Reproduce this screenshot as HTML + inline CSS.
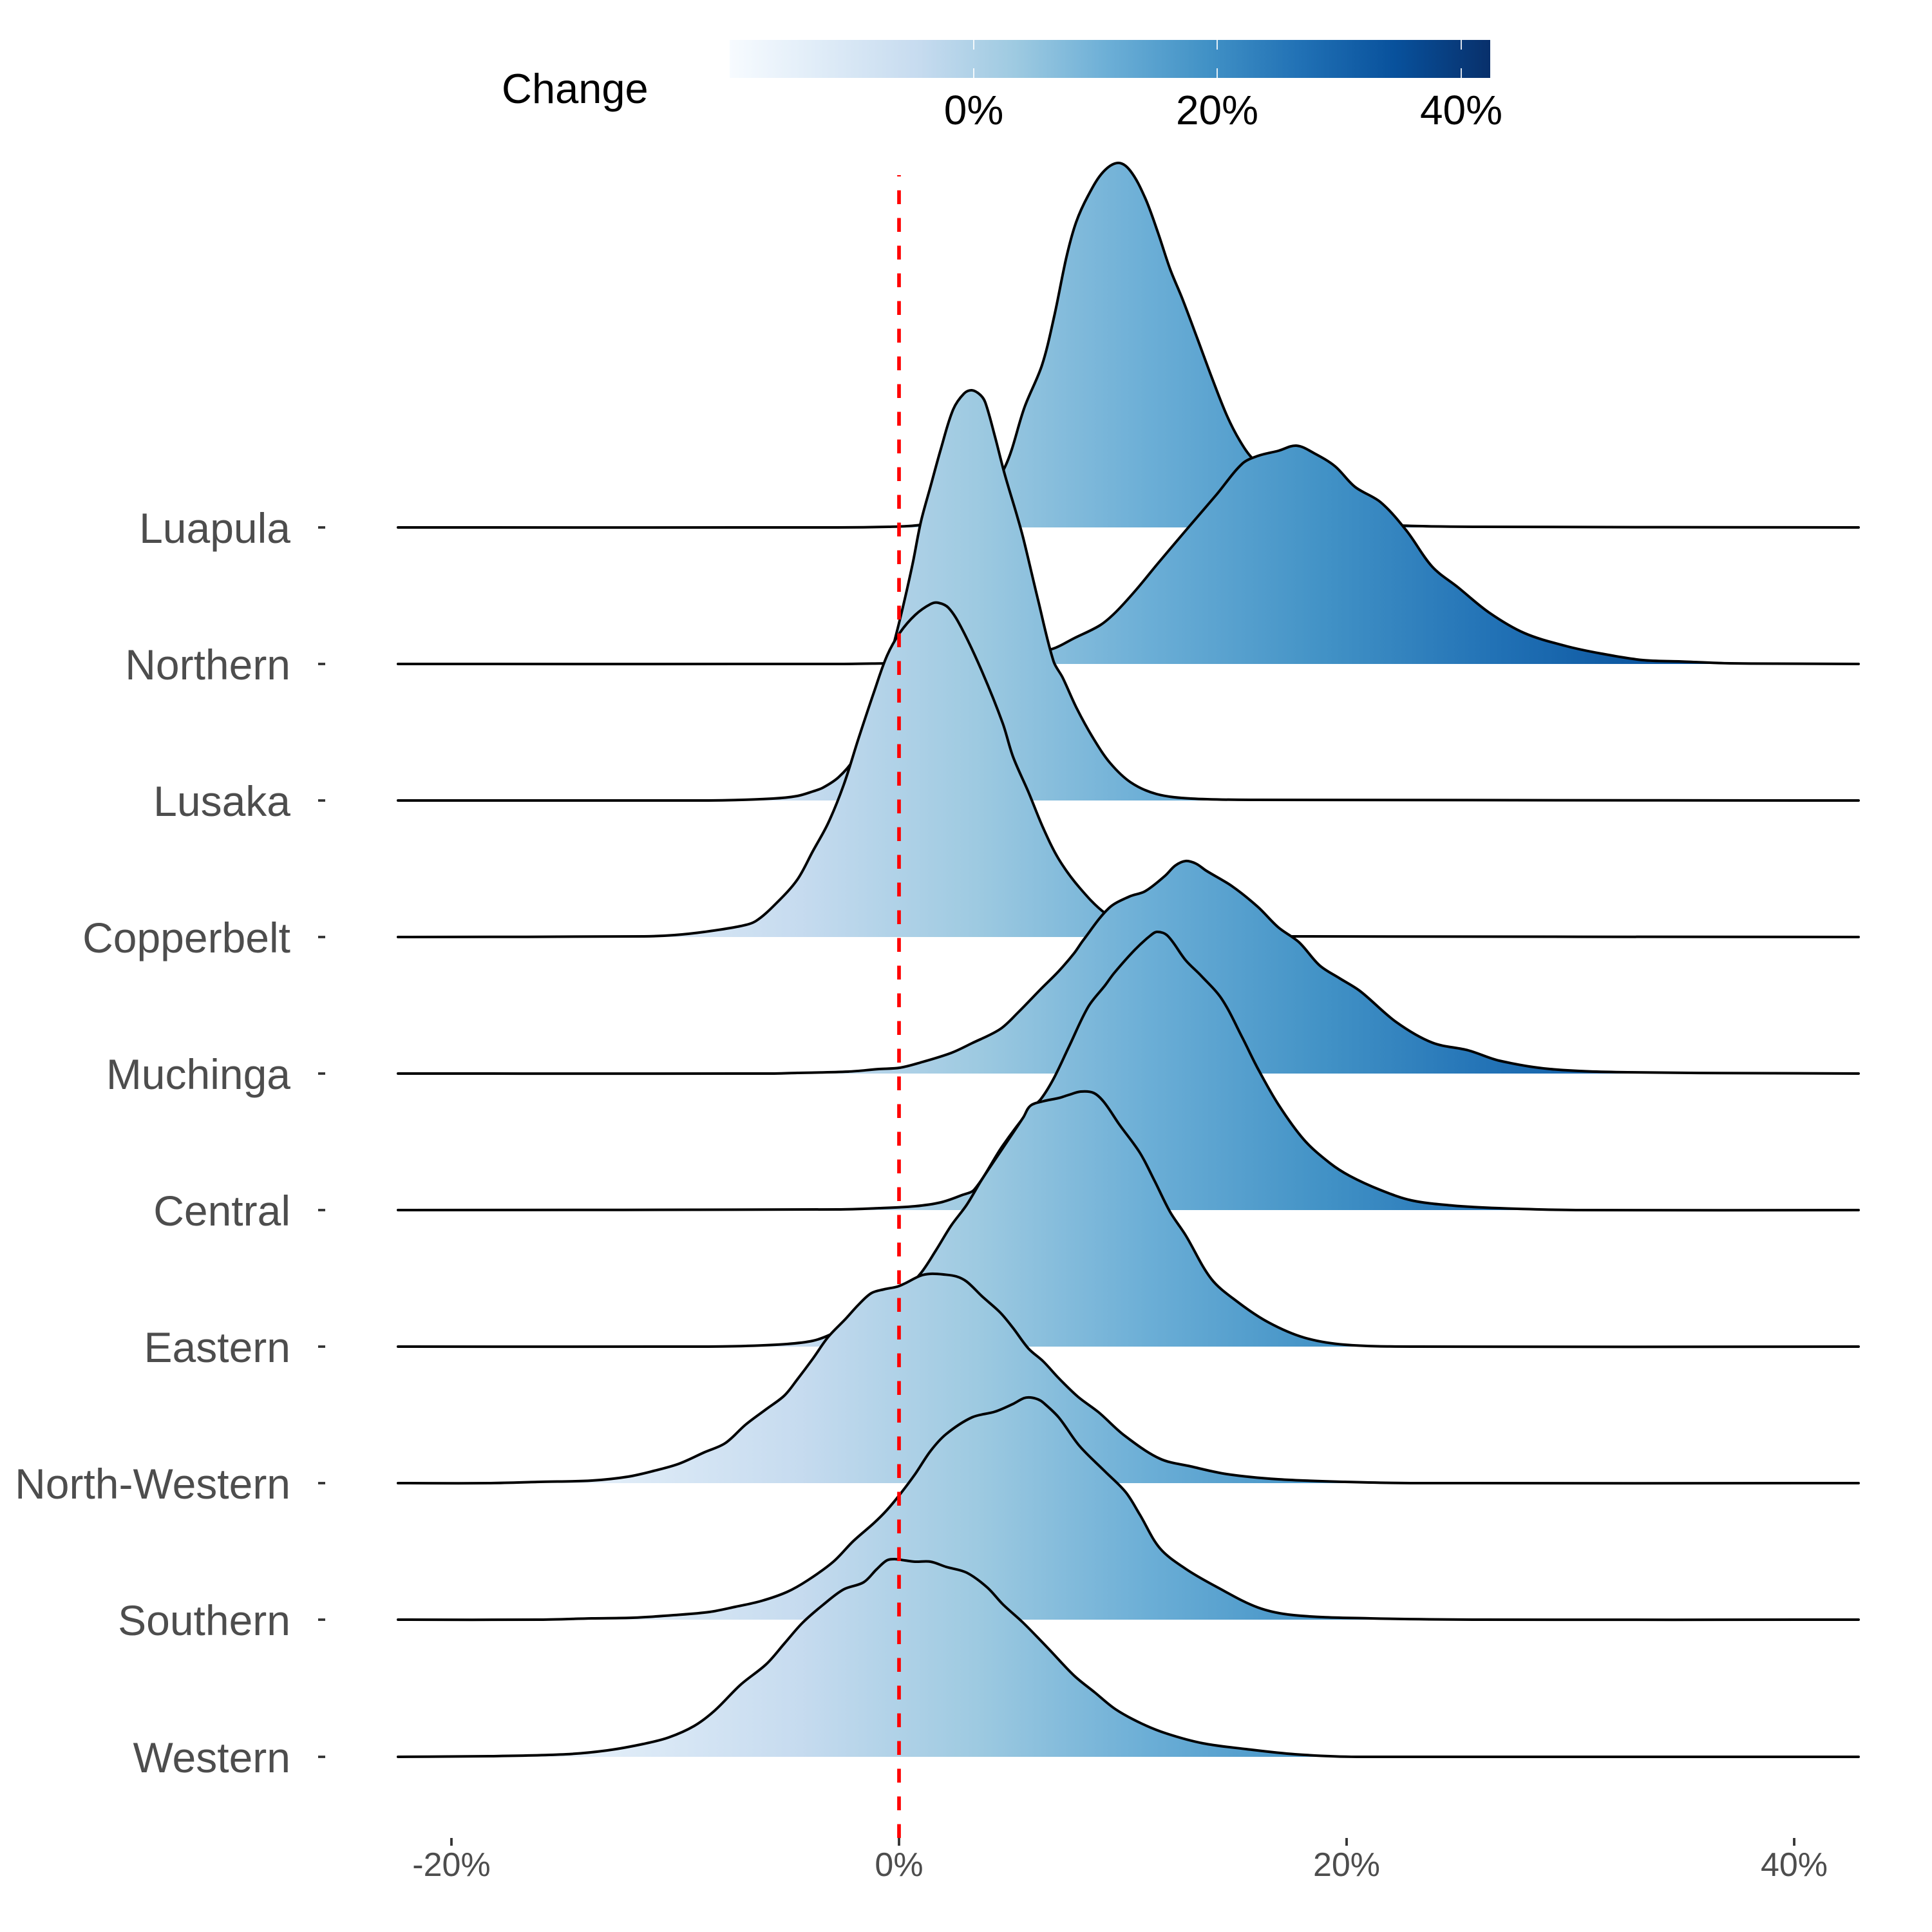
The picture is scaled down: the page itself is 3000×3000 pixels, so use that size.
<!DOCTYPE html>
<html>
<head>
<meta charset="utf-8">
<style>
  html, body { margin: 0; padding: 0; background: #ffffff; }
  svg { display: block; }
  text { font-family: "Liberation Sans", Arial, sans-serif; }
</style>
</head>
<body>
<svg xmlns="http://www.w3.org/2000/svg" width="3000" height="3000" viewBox="0 0 3000 3000">
  <defs>
    <linearGradient id="g" gradientUnits="userSpaceOnUse" x1="701" y1="0" x2="2869" y2="0">
      <stop offset="0" stop-color="#F7FBFF"/>
      <stop offset="0.125" stop-color="#DEEBF7"/>
      <stop offset="0.25" stop-color="#C6DBEF"/>
      <stop offset="0.375" stop-color="#9ECAE1"/>
      <stop offset="0.5" stop-color="#6BAED6"/>
      <stop offset="0.625" stop-color="#4292C6"/>
      <stop offset="0.75" stop-color="#2171B5"/>
      <stop offset="0.875" stop-color="#08519C"/>
      <stop offset="1" stop-color="#08306B"/>
    </linearGradient>
    <linearGradient id="cb" x1="0" y1="0" x2="1" y2="0">
      <stop offset="0" stop-color="#F7FBFF"/>
      <stop offset="0.125" stop-color="#DEEBF7"/>
      <stop offset="0.25" stop-color="#C6DBEF"/>
      <stop offset="0.375" stop-color="#9ECAE1"/>
      <stop offset="0.5" stop-color="#6BAED6"/>
      <stop offset="0.625" stop-color="#4292C6"/>
      <stop offset="0.75" stop-color="#2171B5"/>
      <stop offset="0.875" stop-color="#08519C"/>
      <stop offset="1" stop-color="#08306B"/>
    </linearGradient>
  </defs>

  <rect x="0" y="0" width="3000" height="3000" fill="#ffffff"/>

  <!-- Legend -->
  <text x="779" y="160" font-size="65" fill="#000000">Change</text>
  <rect x="1133" y="62" width="1181" height="59" fill="url(#cb)"/>
  <g stroke="#ffffff" stroke-width="2" opacity="0.85">
    <line x1="1512" y1="62" x2="1512" y2="77"/>
    <line x1="1512" y1="106" x2="1512" y2="121"/>
    <line x1="1890" y1="62" x2="1890" y2="77"/>
    <line x1="1890" y1="106" x2="1890" y2="121"/>
    <line x1="2269" y1="62" x2="2269" y2="77"/>
    <line x1="2269" y1="106" x2="2269" y2="121"/>
  </g>
  <g font-size="64" fill="#000000" text-anchor="middle">
    <text x="1512" y="193">0%</text>
    <text x="1890" y="193">20%</text>
    <text x="2269" y="193">40%</text>
  </g>

  <!-- Ridges -->
  <g id="ridges" stroke-linejoin="round" stroke-linecap="round">
    <!-- Luapula -->
    <polygon fill="url(#g)" stroke="none" points="618,819 1300,819 1380,818 1421,816 1470,808 1520,785 1561,724 1591,632 1618,567 1637,491 1656,399 1671,345 1690,303 1713,267 1736,253 1755,265 1778,307 1798,361 1817,418 1836,464 1859,525 1882,587 1905,645 1925,684 1945,712 2000,760 2060,795 2120,810 2176,816 2300,818 2886,819"/>
    <polyline fill="none" stroke="#000" stroke-width="4" points="618,819 1300,819 1380,818 1421,816 1470,808 1520,785 1561,724 1591,632 1618,567 1637,491 1656,399 1671,345 1690,303 1713,267 1736,253 1755,265 1778,307 1798,361 1817,418 1836,464 1859,525 1882,587 1905,645 1925,684 1945,712 2000,760 2060,795 2120,810 2176,816 2300,818 2886,819"/>

    <!-- Northern -->
    <polygon fill="url(#g)" stroke="none" points="618,1031 1300,1031 1379,1030 1450,1029 1550,1022 1600,1015 1636,1007 1668,991 1708,971 1732,951 1764,916 1797,876 1841,824 1889,768 1929,720 1953,708 1985,700 2013,692 2041,704 2073,724 2104,756 2144,780 2184,824 2224,880 2264,912 2312,951 2367,983 2431,1003 2487,1015 2551,1025 2607,1027 2686,1030 2886,1031"/>
    <polyline fill="none" stroke="#000" stroke-width="4" points="618,1031 1300,1031 1379,1030 1450,1029 1550,1022 1600,1015 1636,1007 1668,991 1708,971 1732,951 1764,916 1797,876 1841,824 1889,768 1929,720 1953,708 1985,700 2013,692 2041,704 2073,724 2104,756 2144,780 2184,824 2224,880 2264,912 2312,951 2367,983 2431,1003 2487,1015 2551,1025 2607,1027 2686,1030 2886,1031"/>

    <!-- Lusaka -->
    <polygon fill="url(#g)" stroke="none" points="618,1243 1100,1243 1200,1240 1238,1236 1262,1229 1278,1223 1302,1207 1326,1179 1350,1131 1369,1075 1385,1011 1401,947 1417,876 1430,810 1445,755 1461,697 1480,636 1497,611 1509,606 1522,613 1530,625 1545,678 1560,736 1579,800 1589,836 1612,932 1636,1027 1650,1052 1672,1100 1698,1147 1724,1185 1756,1215 1796,1233 1850,1240 1950,1242 2886,1243"/>
    <polyline fill="none" stroke="#000" stroke-width="4" points="618,1243 1100,1243 1200,1240 1238,1236 1262,1229 1278,1223 1302,1207 1326,1179 1350,1131 1369,1075 1385,1011 1401,947 1417,876 1430,810 1445,755 1461,697 1480,636 1497,611 1509,606 1522,613 1530,625 1545,678 1560,736 1579,800 1589,836 1612,932 1636,1027 1650,1052 1672,1100 1698,1147 1724,1185 1756,1215 1796,1233 1850,1240 1950,1242 2886,1243"/>

    <!-- Copperbelt -->
    <polygon fill="url(#g)" stroke="none" points="618,1455 1000,1454 1047,1452 1094,1447 1150,1438 1174,1430 1206,1402 1238,1366 1262,1322 1286,1278 1310,1219 1333,1147 1357,1075 1377,1019 1397,983 1421,955 1445,938 1457,936 1473,944 1493,975 1525,1043 1557,1123 1573,1175 1597,1230 1620,1286 1644,1334 1676,1378 1716,1418 1760,1440 1820,1450 1900,1453 2005,1454 2886,1455"/>
    <polyline fill="none" stroke="#000" stroke-width="4" points="618,1455 1000,1454 1047,1452 1094,1447 1150,1438 1174,1430 1206,1402 1238,1366 1262,1322 1286,1278 1310,1219 1333,1147 1357,1075 1377,1019 1397,983 1421,955 1445,938 1457,936 1473,944 1493,975 1525,1043 1557,1123 1573,1175 1597,1230 1620,1286 1644,1334 1676,1378 1716,1418 1760,1440 1820,1450 1900,1453 2005,1454 2886,1455"/>

    <!-- Muchinga -->
    <polygon fill="url(#g)" stroke="none" points="618,1667 1200,1667 1238,1666 1317,1664 1365,1660 1397,1658 1429,1650 1477,1635 1509,1620 1553,1598 1581,1572 1616,1536 1644,1508 1668,1480 1682,1460 1722,1410 1754,1392 1778,1384 1809,1360 1825,1344 1841,1337 1857,1341 1873,1352 1913,1376 1953,1408 1985,1440 2017,1463 2049,1499 2080,1519 2112,1539 2168,1587 2224,1619 2280,1631 2328,1647 2407,1660 2527,1665 2886,1667"/>
    <polyline fill="none" stroke="#000" stroke-width="4" points="618,1667 1200,1667 1238,1666 1317,1664 1365,1660 1397,1658 1429,1650 1477,1635 1509,1620 1553,1598 1581,1572 1616,1536 1644,1508 1668,1480 1682,1460 1722,1410 1754,1392 1778,1384 1809,1360 1825,1344 1841,1337 1857,1341 1873,1352 1913,1376 1953,1408 1985,1440 2017,1463 2049,1499 2080,1519 2112,1539 2168,1587 2224,1619 2280,1631 2328,1647 2407,1660 2527,1665 2886,1667"/>

    <!-- Central -->
    <polygon fill="url(#g)" stroke="none" points="618,1879 1300,1878 1365,1876 1421,1873 1461,1867 1493,1856 1513,1847 1557,1779 1600,1722 1616,1707 1636,1675 1660,1625 1690,1563 1716,1530 1730,1511 1762,1475 1786,1453 1797,1447 1813,1453 1841,1491 1865,1515 1897,1551 1929,1611 1953,1659 1985,1715 2025,1770 2065,1806 2096,1826 2144,1848 2192,1864 2256,1872 2328,1876 2447,1879 2886,1879"/>
    <polyline fill="none" stroke="#000" stroke-width="4" points="618,1879 1300,1878 1365,1876 1421,1873 1461,1867 1493,1856 1513,1847 1557,1779 1600,1722 1616,1707 1636,1675 1660,1625 1690,1563 1716,1530 1730,1511 1762,1475 1786,1453 1797,1447 1813,1453 1841,1491 1865,1515 1897,1551 1929,1611 1953,1659 1985,1715 2025,1770 2065,1806 2096,1826 2144,1848 2192,1864 2256,1872 2328,1876 2447,1879 2886,1879"/>

    <!-- Eastern -->
    <polygon fill="url(#g)" stroke="none" points="618,2091 1100,2091 1158,2090 1222,2087 1262,2082 1290,2072 1357,2038 1397,2010 1429,1978 1453,1942 1477,1903 1501,1871 1525,1831 1557,1783 1589,1735 1600,1717 1620,1710 1644,1705 1660,1700 1678,1695 1698,1697 1714,1711 1738,1746 1770,1790 1793,1834 1817,1882 1841,1918 1881,1986 1921,2021 1969,2053 2025,2077 2088,2088 2200,2091 2886,2091"/>
    <polyline fill="none" stroke="#000" stroke-width="4" points="618,2091 1100,2091 1158,2090 1222,2087 1262,2082 1290,2072 1357,2038 1397,2010 1429,1978 1453,1942 1477,1903 1501,1871 1525,1831 1557,1783 1589,1735 1600,1717 1620,1710 1644,1705 1660,1700 1678,1695 1698,1697 1714,1711 1738,1746 1770,1790 1793,1834 1817,1882 1841,1918 1881,1986 1921,2021 1969,2053 2025,2077 2088,2088 2200,2091 2886,2091"/>

    <!-- North-Western -->
    <polygon fill="url(#g)" stroke="none" points="618,2303 759,2303 839,2301 919,2299 975,2293 1015,2284 1054,2273 1094,2255 1126,2241 1158,2212 1190,2188 1218,2167 1238,2142 1262,2110 1286,2076 1313,2048 1333,2026 1353,2008 1373,2002 1393,1998 1405,1993 1429,1981 1445,1978 1465,1979 1485,1982 1501,1990 1525,2013 1553,2038 1573,2062 1597,2094 1620,2114 1644,2140 1674,2169 1706,2193 1746,2229 1801,2265 1849,2277 1905,2289 1985,2297 2088,2301 2200,2303 2886,2303"/>
    <polyline fill="none" stroke="#000" stroke-width="4" points="618,2303 759,2303 839,2301 919,2299 975,2293 1015,2284 1054,2273 1094,2255 1126,2241 1158,2212 1190,2188 1218,2167 1238,2142 1262,2110 1286,2076 1313,2048 1333,2026 1353,2008 1373,2002 1393,1998 1405,1993 1429,1981 1445,1978 1465,1979 1485,1982 1501,1990 1525,2013 1553,2038 1573,2062 1597,2094 1620,2114 1644,2140 1674,2169 1706,2193 1746,2229 1801,2265 1849,2277 1905,2289 1985,2297 2088,2301 2200,2303 2886,2303"/>

    <!-- Southern -->
    <polygon fill="url(#g)" stroke="none" points="618,2515 839,2515 919,2513 983,2512 1046,2508 1102,2503 1142,2495 1182,2486 1222,2472 1254,2454 1294,2425 1325,2393 1357,2365 1377,2345 1397,2321 1421,2289 1445,2253 1469,2227 1509,2201 1545,2192 1573,2180 1590,2171 1600,2170 1612,2173 1620,2178 1644,2201 1676,2245 1716,2285 1748,2317 1770,2352 1801,2404 1841,2436 1889,2464 1953,2496 2009,2508 2128,2513 2300,2515 2886,2515"/>
    <polyline fill="none" stroke="#000" stroke-width="4" points="618,2515 839,2515 919,2513 983,2512 1046,2508 1102,2503 1142,2495 1182,2486 1222,2472 1254,2454 1294,2425 1325,2393 1357,2365 1377,2345 1397,2321 1421,2289 1445,2253 1469,2227 1509,2201 1545,2192 1573,2180 1590,2171 1600,2170 1612,2173 1620,2178 1644,2201 1676,2245 1716,2285 1748,2317 1770,2352 1801,2404 1841,2436 1889,2464 1953,2496 2009,2508 2128,2513 2300,2515 2886,2515"/>

    <!-- Western -->
    <polygon fill="url(#g)" stroke="none" points="618,2728 759,2727 879,2724 943,2718 999,2708 1038,2698 1078,2680 1110,2656 1150,2616 1190,2584 1218,2552 1246,2520 1278,2492 1310,2468 1341,2457 1361,2437 1377,2423 1389,2421 1405,2423 1421,2425 1445,2425 1469,2433 1501,2442 1533,2465 1557,2491 1589,2520 1628,2560 1668,2602 1700,2628 1732,2654 1772,2676 1812,2692 1868,2707 1935,2716 2011,2724 2107,2728 2886,2728"/>
    <polyline fill="none" stroke="#000" stroke-width="4" points="618,2728 759,2727 879,2724 943,2718 999,2708 1038,2698 1078,2680 1110,2656 1150,2616 1190,2584 1218,2552 1246,2520 1278,2492 1310,2468 1341,2457 1361,2437 1377,2423 1389,2421 1405,2423 1421,2425 1445,2425 1469,2433 1501,2442 1533,2465 1557,2491 1589,2520 1628,2560 1668,2602 1700,2628 1732,2654 1772,2676 1812,2692 1868,2707 1935,2716 2011,2724 2107,2728 2886,2728"/>
  </g>

  <!-- Red dashed reference line at 0% -->
  <line x1="1396" y1="2854" x2="1396" y2="272" stroke="#FF0000" stroke-width="5.7" stroke-dasharray="21.5 21.5"/>

  <!-- Y axis ticks -->
  <g stroke="#333333" stroke-width="3.8">
    <line x1="494" y1="819" x2="505" y2="819"/>
    <line x1="494" y1="1031" x2="505" y2="1031"/>
    <line x1="494" y1="1243" x2="505" y2="1243"/>
    <line x1="494" y1="1455" x2="505" y2="1455"/>
    <line x1="494" y1="1667" x2="505" y2="1667"/>
    <line x1="494" y1="1879" x2="505" y2="1879"/>
    <line x1="494" y1="2091" x2="505" y2="2091"/>
    <line x1="494" y1="2303" x2="505" y2="2303"/>
    <line x1="494" y1="2515" x2="505" y2="2515"/>
    <line x1="494" y1="2728" x2="505" y2="2728"/>
  </g>

  <!-- Y axis labels -->
  <g font-size="66" fill="#4D4D4D" text-anchor="end">
    <text x="451" y="843">Luapula</text>
    <text x="451" y="1055">Northern</text>
    <text x="451" y="1267">Lusaka</text>
    <text x="451" y="1479">Copperbelt</text>
    <text x="451" y="1691">Muchinga</text>
    <text x="451" y="1903">Central</text>
    <text x="451" y="2115">Eastern</text>
    <text x="451" y="2327">North-Western</text>
    <text x="451" y="2539">Southern</text>
    <text x="451" y="2752">Western</text>
  </g>

  <!-- X axis ticks -->
  <g stroke="#333333" stroke-width="3.8">
    <line x1="701" y1="2854" x2="701" y2="2866"/>
    <line x1="1396" y1="2854" x2="1396" y2="2866"/>
    <line x1="2091" y1="2854" x2="2091" y2="2866"/>
    <line x1="2786" y1="2854" x2="2786" y2="2866"/>
  </g>

  <!-- X axis labels -->
  <g font-size="52" fill="#4D4D4D" text-anchor="middle">
    <text x="701" y="2913">-20%</text>
    <text x="1396" y="2913">0%</text>
    <text x="2091" y="2913">20%</text>
    <text x="2786" y="2913">40%</text>
  </g>
</svg>
<script>
(function(){
  try {
    var grp = document.getElementById('ridges');
    if (!grp) return;
    var els = grp.querySelectorAll('polyline, polygon');
    for (var k = 0; k < els.length; k++) {
      var el = els[k];
      var nums = el.getAttribute('points').trim().split(/[\s,]+/).map(Number);
      var P = [];
      for (var i = 0; i + 1 < nums.length; i += 2) P.push([nums[i], nums[i + 1]]);
      var n = P.length;
      if (n < 3) continue;
      var T = [];
      for (var i = 0; i < n; i++) {
        var a = P[Math.max(0, i - 1)], b = P[Math.min(n - 1, i + 1)];
        var dx = b[0] - a[0], dy = b[1] - a[1];
        var l = Math.sqrt(dx * dx + dy * dy) || 1;
        T.push([dx / l, dy / l]);
      }
      var d = 'M' + P[0][0] + ',' + P[0][1];
      for (var i = 0; i < n - 1; i++) {
        var sx = P[i + 1][0] - P[i][0], sy = P[i + 1][1] - P[i][1];
        var L = Math.sqrt(sx * sx + sy * sy) / 3;
        d += ' C' + (P[i][0] + T[i][0] * L).toFixed(2) + ',' + (P[i][1] + T[i][1] * L).toFixed(2) +
             ' ' + (P[i + 1][0] - T[i + 1][0] * L).toFixed(2) + ',' + (P[i + 1][1] - T[i + 1][1] * L).toFixed(2) +
             ' ' + P[i + 1][0] + ',' + P[i + 1][1];
      }
      if (el.tagName.toLowerCase() === 'polygon') d += ' Z';
      var p = document.createElementNS('http://www.w3.org/2000/svg', 'path');
      var attrs = ['fill', 'stroke', 'stroke-width'];
      for (var j = 0; j < attrs.length; j++) {
        var v = el.getAttribute(attrs[j]);
        if (v !== null) p.setAttribute(attrs[j], v);
      }
      p.setAttribute('d', d);
      el.parentNode.replaceChild(p, el);
    }
  } catch (e) {}
})();
</script>
</body>
</html>
